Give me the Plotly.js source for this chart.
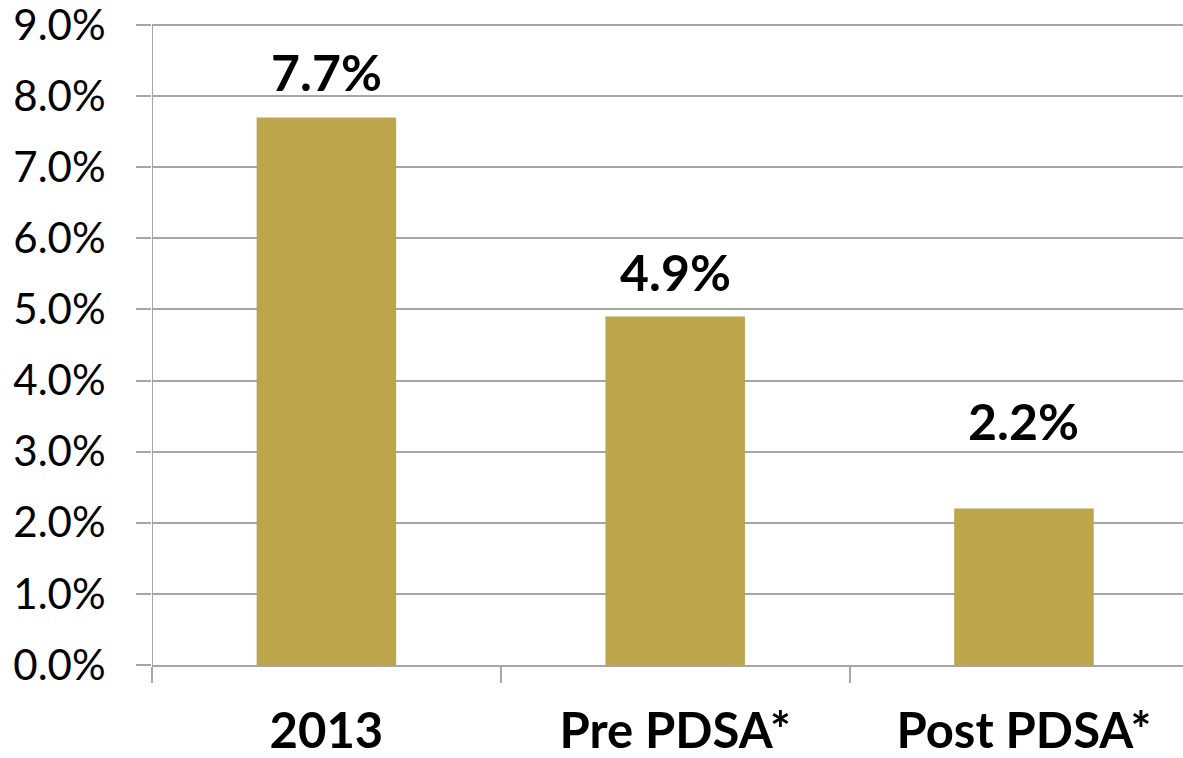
<!DOCTYPE html>
<html>
<head>
<meta charset="utf-8">
<script src="https://cdn.plot.ly/plotly-3.0.1.min.js"></script>
<style>html,body{margin:0;padding:0;background:#fff;}#chart{width:1183px;height:758px;}</style>
</head>
<body>
<div id="chart"></div>
<script>
var categories = ["2013", "Pre PDSA*", "Post PDSA*"];
var rates = [7.7, 4.9, 2.2];
var rateLabels = ["7.7%", "4.9%", "2.2%"];
var yTickVals = [0, 1, 2, 3, 4, 5, 6, 7, 8, 9];
var yTickText = ["0.0%", "1.0%", "2.0%", "3.0%", "4.0%", "5.0%", "6.0%", "7.0%", "8.0%", "9.0%"];

var gridColor = "#a6a6a6";
var barColor = "#bca54a";
// label offsets above bar tops (pixels), as placed in the original
var labelShift = [13, 13, 56];
var yTop = yTickVals[yTickVals.length - 1];

var trace = {
  type: "bar",
  x: categories,
  y: rates,
  width: 0.4,
  marker: {color: barColor},
  hoverinfo: "none"
};

var annotations = categories.map(function (c, i) {
  return {
    x: i, y: rates[i], xref: "x", yref: "y",
    text: "<b>" + rateLabels[i] + "</b>",
    showarrow: false, yanchor: "bottom", yshift: labelShift[i],
    font: {family: "Lato, sans-serif", size: 50, color: "#000"}
  };
});

var layout = {
  width: 1183, height: 758,
  margin: {l: 152, r: 0, t: 21, b: 93},
  paper_bgcolor: "#fff", plot_bgcolor: "#fff",
  showlegend: false,
  xaxis: {
    type: "category",
    range: [-0.5, 2.456],
    tickson: "boundaries",
    ticks: "outside", ticklen: 16, tickwidth: 2, tickcolor: gridColor,
    showline: true, linecolor: gridColor, linewidth: 2,
    showgrid: false, zeroline: false,
    ticklabelstandoff: 22,
    tickfont: {family: "Lato, sans-serif", size: 49, color: "#000", weight: "bold"},
    fixedrange: true
  },
  yaxis: {
    range: [0, yTop + 0.056],
    tickmode: "array", tickvals: yTickVals, ticktext: yTickText,
    ticklabeloverflow: "allow",
    ticks: "outside", ticklen: 15, tickwidth: 2, tickcolor: gridColor,
    showgrid: true, gridcolor: gridColor, gridwidth: 2,
    showline: false,
    zeroline: false,
    ticklabelstandoff: 22,
    tickfont: {family: "Lato, sans-serif", size: 42, color: "#000"},
    fixedrange: true
  },
  shapes: [{
    type: "line", xref: "x", yref: "y", layer: "above",
    x0: -0.5, x1: -0.5, y0: 0, y1: yTop,
    line: {color: gridColor, width: 2}
  }],
  annotations: annotations
};

Plotly.newPlot("chart", [trace], layout, {displayModeBar: false, staticPlot: true});
</script>
</body>
</html>
